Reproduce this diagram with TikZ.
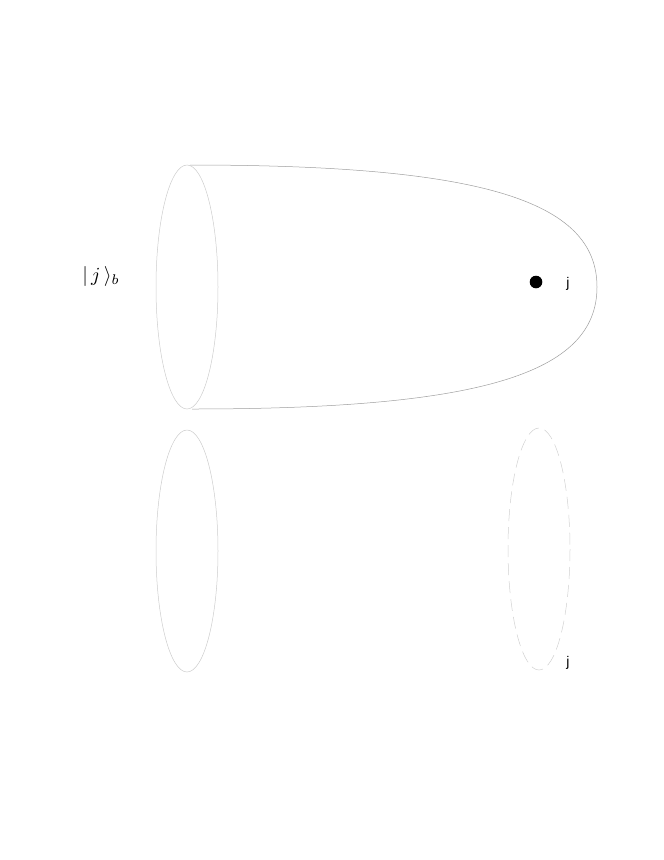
\documentclass[tikz,border=0pt]{standalone}
\usepackage{fontspec}
\newfontfamily\labfont{Liberation Sans}
\begin{document}
\begin{tikzpicture}[x=1pt,y=-1pt,
  rim/.style={draw=black!20,line width=0.5pt},
  hull/.style={draw=black!38,line width=0.5pt},
  ghost/.style={draw=black!18,line width=0.5pt,dash pattern=on 12pt off 6pt},
  lab/.style={font=\labfont\fontsize{14}{17}\selectfont,inner sep=0pt}]
\useasboundingbox (0,0) rectangle (664,860);
\coordinate (ta) at (190,165);
\coordinate (tip) at (597,287);
\coordinate (tb) at (192,409);
\draw[hull] (ta) .. controls (480,165) and (597,200) .. (tip)
  .. controls (597,374) and (480,409) .. (tb);
\draw[rim] (187,287) ellipse [x radius=31, y radius=122];
\draw[rim] (187,551) ellipse [x radius=31, y radius=121];
\draw[ghost] (539,549) ellipse [x radius=31, y radius=121];
\fill[black] (536,282) circle [radius=6.3];
\node[lab] (j1) at (568,284) {j};
\node[lab] (j2) at (568,663) {j};
\node[inner sep=0pt,scale=2] (ket) at (101,276) {$|\,j\,\rangle_b$};
\end{tikzpicture}
\end{document}
